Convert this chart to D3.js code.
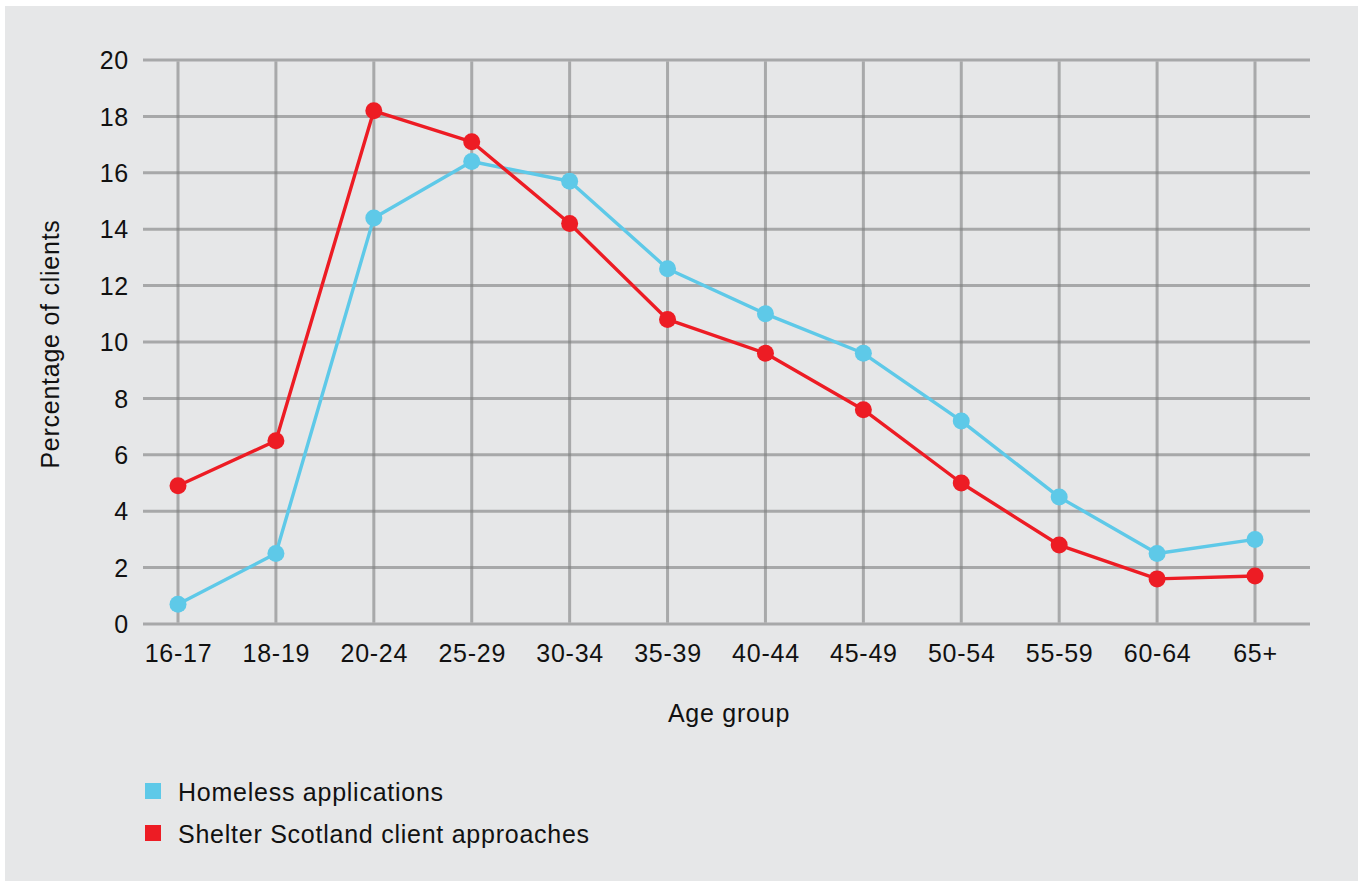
<!DOCTYPE html>
<html>
<head>
<meta charset="utf-8">
<script src="https://cdn.jsdelivr.net/npm/d3@7"></script>
<style>
  html, body { margin: 0; padding: 0; background: #ffffff; }
  svg { display: block; }
  text { font-family: "Liberation Sans", Arial, Helvetica, sans-serif; fill: #111; letter-spacing: 0.75px; }
</style>
</head>
<body>
<svg id="chart" width="1363" height="881"></svg>
<script>
const ageGroups = ["16-17","18-19","20-24","25-29","30-34","35-39","40-44","45-49","50-54","55-59","60-64","65+"];
const homelessApplications = [0.7, 2.5, 14.4, 16.4, 15.7, 12.6, 11.0, 9.6, 7.2, 4.5, 2.5, 3.0];
const shelterApproaches   = [4.9, 6.5, 18.2, 17.1, 14.2, 10.8, 9.6, 7.6, 5.0, 2.8, 1.6, 1.7];
const yTicks = [0, 2, 4, 6, 8, 10, 12, 14, 16, 18, 20];
const seriesNames = ["Homeless applications", "Shelter Scotland client approaches"];
const seriesColors = ["#5ec9e8", "#ed1c24"];

const svg = d3.select("#chart");

// background panel
svg.append("rect").attr("x", 5).attr("y", 6).attr("width", 1353).attr("height", 875).attr("fill", "#e6e7e8");

const x = d3.scalePoint().domain(ageGroups).range([178, 1255]);
const y = d3.scaleLinear().domain([0, 20]).range([624, 60]);
const gridLeft = 143, gridRight = 1310;

// horizontal gridlines
svg.append("g").selectAll("line").data(yTicks).join("line")
  .attr("x1", gridLeft).attr("x2", gridRight)
  .attr("y1", d => y(d)).attr("y2", d => y(d))
  .attr("stroke", "#a7a8a9").attr("stroke-width", 3);

// vertical gridlines
svg.append("g").selectAll("line").data(ageGroups).join("line")
  .attr("x1", d => x(d)).attr("x2", d => x(d))
  .attr("y1", y(20) + 1.5).attr("y2", y(0) - 1.5)
  .attr("stroke", "#7f8081").attr("stroke-opacity", 0.6).attr("stroke-width", 3);

// y axis labels
const yAxis = d3.axisLeft(y).tickValues(yTicks).tickSize(0).tickPadding(0);
const yg = svg.append("g").attr("transform", "translate(129,0)").call(yAxis);
yg.select(".domain").remove();
yg.selectAll("text").attr("font-size", 25).attr("dy", "0.35em").style("font-family", null).attr("font-family", null);

// x axis labels
const xAxis = d3.axisBottom(x).tickSize(0).tickPadding(0);
const xg = svg.append("g").attr("transform", "translate(0,662)").call(xAxis);
xg.select(".domain").remove();
xg.selectAll("text").attr("font-size", 25).attr("dy", 0).attr("y", 0).attr("font-family", null);

// axis titles
svg.append("text").attr("x", 729).attr("y", 722).attr("text-anchor", "middle").attr("font-size", 25).text("Age group");
svg.append("text").attr("transform", "translate(59,344) rotate(-90)").attr("text-anchor", "middle").attr("font-size", 25).text("Percentage of clients");

// series
const series = [homelessApplications, shelterApproaches];
const line = d3.line().x((d, i) => x(ageGroups[i])).y(d => y(d));
series.forEach((vals, si) => {
  const g = svg.append("g");
  g.append("path").datum(vals).attr("d", line)
    .attr("fill", "none").attr("stroke", seriesColors[si]).attr("stroke-width", 3.4).attr("stroke-linejoin", "round");
  g.selectAll("circle").data(vals).join("circle")
    .attr("cx", (d, i) => x(ageGroups[i])).attr("cy", d => y(d)).attr("r", 8.5)
    .attr("fill", seriesColors[si]);
});

// legend
const legend = svg.append("g");
const legendY = [791, 833];
seriesNames.forEach((name, i) => {
  legend.append("rect").attr("x", 145).attr("y", legendY[i] - 8).attr("width", 16).attr("height", 16).attr("fill", seriesColors[i]);
  legend.append("text").attr("x", 178).attr("y", legendY[i] + 10).attr("font-size", 25).text(name);
});
</script>
</body>
</html>
